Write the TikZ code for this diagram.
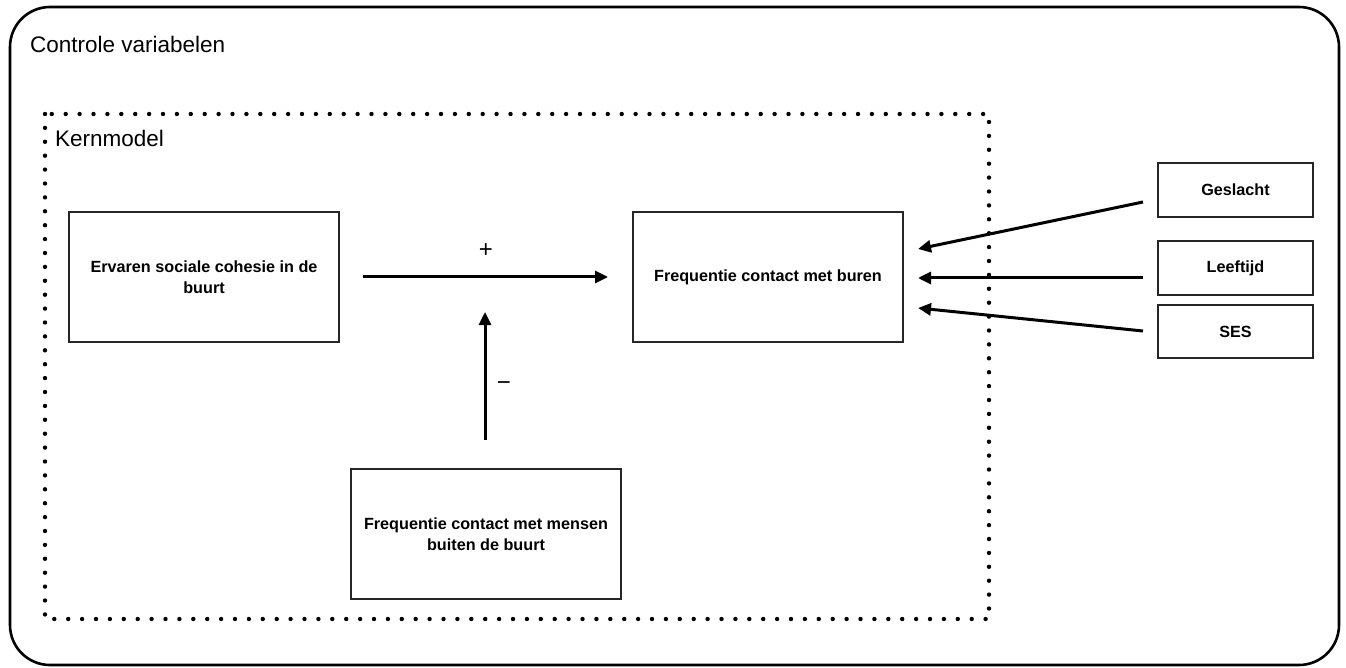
\documentclass[tikz,border=0pt]{standalone}
\usepackage{fontspec}
\setmainfont{Liberation Sans}
\usetikzlibrary{arrows.meta}
\begin{document}
\begin{tikzpicture}[x=1pt,y=-1pt,
  box/.style={draw=black!85,line width=1.1pt,rectangle,inner sep=0pt,
    font=\bfseries\fontsize{16.2}{21.5}\selectfont,align=center},
  conn/.style={line width=3pt,-{Triangle[length=13pt,width=12pt]}},
  title/.style={font=\fontsize{22.5}{27}\selectfont,anchor=base west,inner sep=0pt},
  sign/.style={font=\fontsize{24}{28}\selectfont,inner sep=0pt}]
\useasboundingbox (0,0) rectangle (1346,668);
% outer frame
\draw[line width=2.6pt,rounded corners=40pt] (10,7) rectangle (1339,665);
\node[title] (ctrl) at (30,53) {Controle variabelen};
% dotted core model frame
\draw[line width=4.4pt,line cap=round,dash pattern=on 0pt off 13.9pt] (45,114) rectangle (989,619);
\node[title] (kern) at (55,147) {Kernmodel};
% boxes
\node[box,minimum width=270pt,minimum height=130pt] (coh) at (204,277) {Ervaren sociale cohesie in de\\buurt};
\node[box,minimum width=270pt,minimum height=130pt] (bur) at (768,277) {Frequentie contact met buren};
\node[box,minimum width=270pt,minimum height=130pt] (men) at (486,534) {Frequentie contact met mensen\\buiten de buurt};
\node[box,minimum width=155pt,minimum height=54pt] (ges) at (1235.5,190) {Geslacht};
\node[box,minimum width=155pt,minimum height=54pt] (lft) at (1235.5,268) {Leeftijd};
\node[box,minimum width=155pt,minimum height=53pt] (ses) at (1235.5,331.5) {SES};
% arrow end points
\coordinate (cohE) at (363,277);
\coordinate (burW) at (608,277);
\coordinate (menN) at (485,440);
\coordinate (mid) at (485,312);
\coordinate (gesS) at (1143,202);
\coordinate (lftS) at (1143,278);
\coordinate (sesS) at (1143,331);
\coordinate (burA) at (918,249);
\coordinate (burB) at (918,278);
\coordinate (burC) at (918,308);
% connectors
\draw[conn] (cohE) -- (burW);
\draw[conn] (menN) -- (mid);
\draw[conn] (gesS) -- (burA);
\draw[conn] (lftS) -- (burB);
\draw[conn] (sesS) -- (burC);
% signs
\node[sign] (plus) at (486,251) {+};
\node[sign] (minus) at (504,386) {−};
\end{tikzpicture}
\end{document}
